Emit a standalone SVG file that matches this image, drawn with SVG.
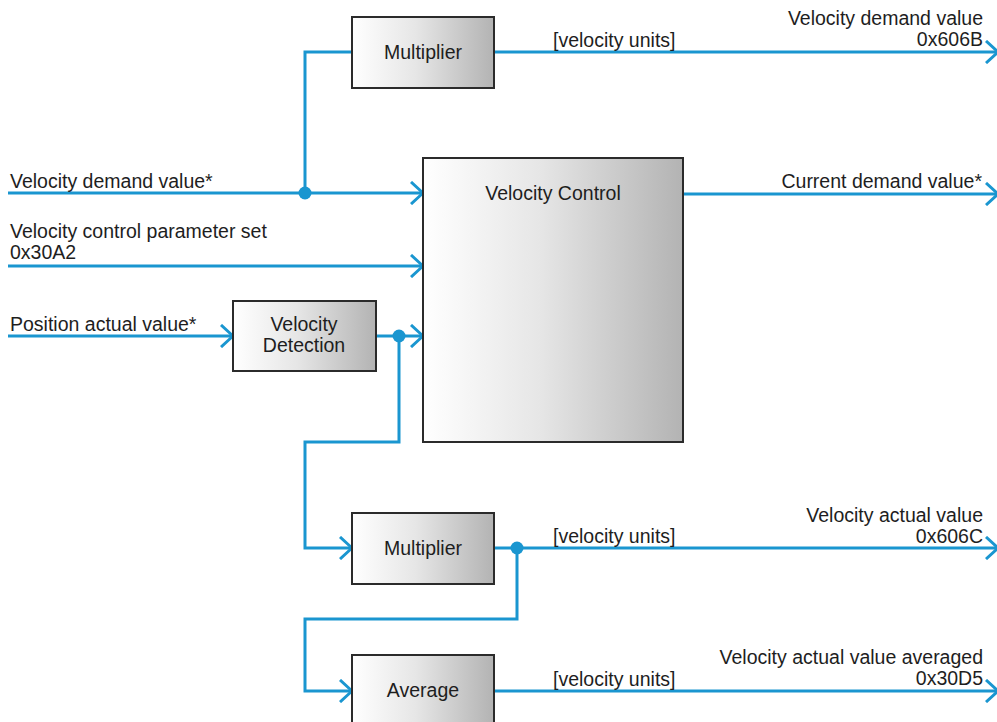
<svg xmlns="http://www.w3.org/2000/svg" width="997" height="722" viewBox="0 0 997 722">
<defs>
<linearGradient id="g" x1="0" y1="0" x2="1" y2="0">
<stop offset="0" stop-color="#ffffff"/>
<stop offset="0.45" stop-color="#e6e6e6"/>
<stop offset="1" stop-color="#b3b3b3"/>
</linearGradient>
<marker id="a" viewBox="0 0 14 24" refX="13" refY="12" markerWidth="14" markerHeight="24" markerUnits="userSpaceOnUse" orient="auto">
<path d="M1,1 L13,12 L1,23" fill="none" stroke="#1a96d0" stroke-width="3"/>
</marker>
</defs>
<style>
.box{fill:url(#g);stroke:#2b2b2b;stroke-width:2}
.t{font-family:"Liberation Sans",Arial,sans-serif;font-size:19.5px;fill:#1e1e1e}
.m{text-anchor:middle}
.e{text-anchor:end}
.w{fill:none;stroke:#1a96d0;stroke-width:3}
.d{fill:#1a96d0}
</style>
<rect width="997" height="722" fill="#ffffff"/>
<g id="connectors">
<path class="w" d="M305,193 V52 H352"/>
<path class="w" d="M494,52 H998" marker-end="url(#a)"/>
<path class="w" d="M8,193 H423" marker-end="url(#a)"/>
<path class="w" d="M8,266 H423" marker-end="url(#a)"/>
<path class="w" d="M8,336 H233" marker-end="url(#a)"/>
<path class="w" d="M376,336 H423" marker-end="url(#a)"/>
<path class="w" d="M683,194 H998" marker-end="url(#a)"/>
<path class="w" d="M399,336 V442 H305 V548 H352" marker-end="url(#a)"/>
<path class="w" d="M494,548 H998" marker-end="url(#a)"/>
<path class="w" d="M517,548 V619 H305 V691 H352" marker-end="url(#a)"/>
<path class="w" d="M494,691 H998" marker-end="url(#a)"/>
<circle class="d" cx="305" cy="193" r="6.5"/>
<circle class="d" cx="399" cy="336" r="6.5"/>
<circle class="d" cx="517" cy="548" r="6.5"/>
</g>
<g id="labels">
<text class="t" x="553" y="47">[velocity units]</text>
<text class="t e" x="983" y="25">Velocity demand value</text>
<text class="t e" x="983" y="46">0x606B</text>
<text class="t" x="10" y="188">Velocity demand value*</text>
<text class="t" x="10" y="238">Velocity control parameter set</text>
<text class="t" x="10" y="259">0x30A2</text>
<text class="t" x="10" y="331">Position actual value*</text>
<text class="t e" x="982" y="188">Current demand value*</text>
<text class="t" x="553" y="543">[velocity units]</text>
<text class="t e" x="983" y="522">Velocity actual value</text>
<text class="t e" x="983" y="543">0x606C</text>
<text class="t" x="553" y="686">[velocity units]</text>
<text class="t e" x="983" y="664">Velocity actual value averaged</text>
<text class="t e" x="983" y="685">0x30D5</text>
</g>
<g id="mult1">
<rect class="box" x="352" y="17" width="142" height="71"/>
<text class="t m" x="423" y="59">Multiplier</text>
</g>
<g id="velocity-control">
<rect class="box" x="423" y="158" width="260" height="284"/>
<text class="t m" x="553" y="200">Velocity Control</text>
</g>
<g id="velocity-detection">
<rect class="box" x="233" y="301" width="143" height="70"/>
<text class="t m" x="304" y="331">Velocity</text>
<text class="t m" x="304" y="352">Detection</text>
</g>
<g id="mult2">
<rect class="box" x="352" y="513" width="142" height="71"/>
<text class="t m" x="423" y="555">Multiplier</text>
</g>
<g id="average">
<rect class="box" x="352" y="655" width="142" height="71"/>
<text class="t m" x="423" y="697">Average</text>
</g>
</svg>
